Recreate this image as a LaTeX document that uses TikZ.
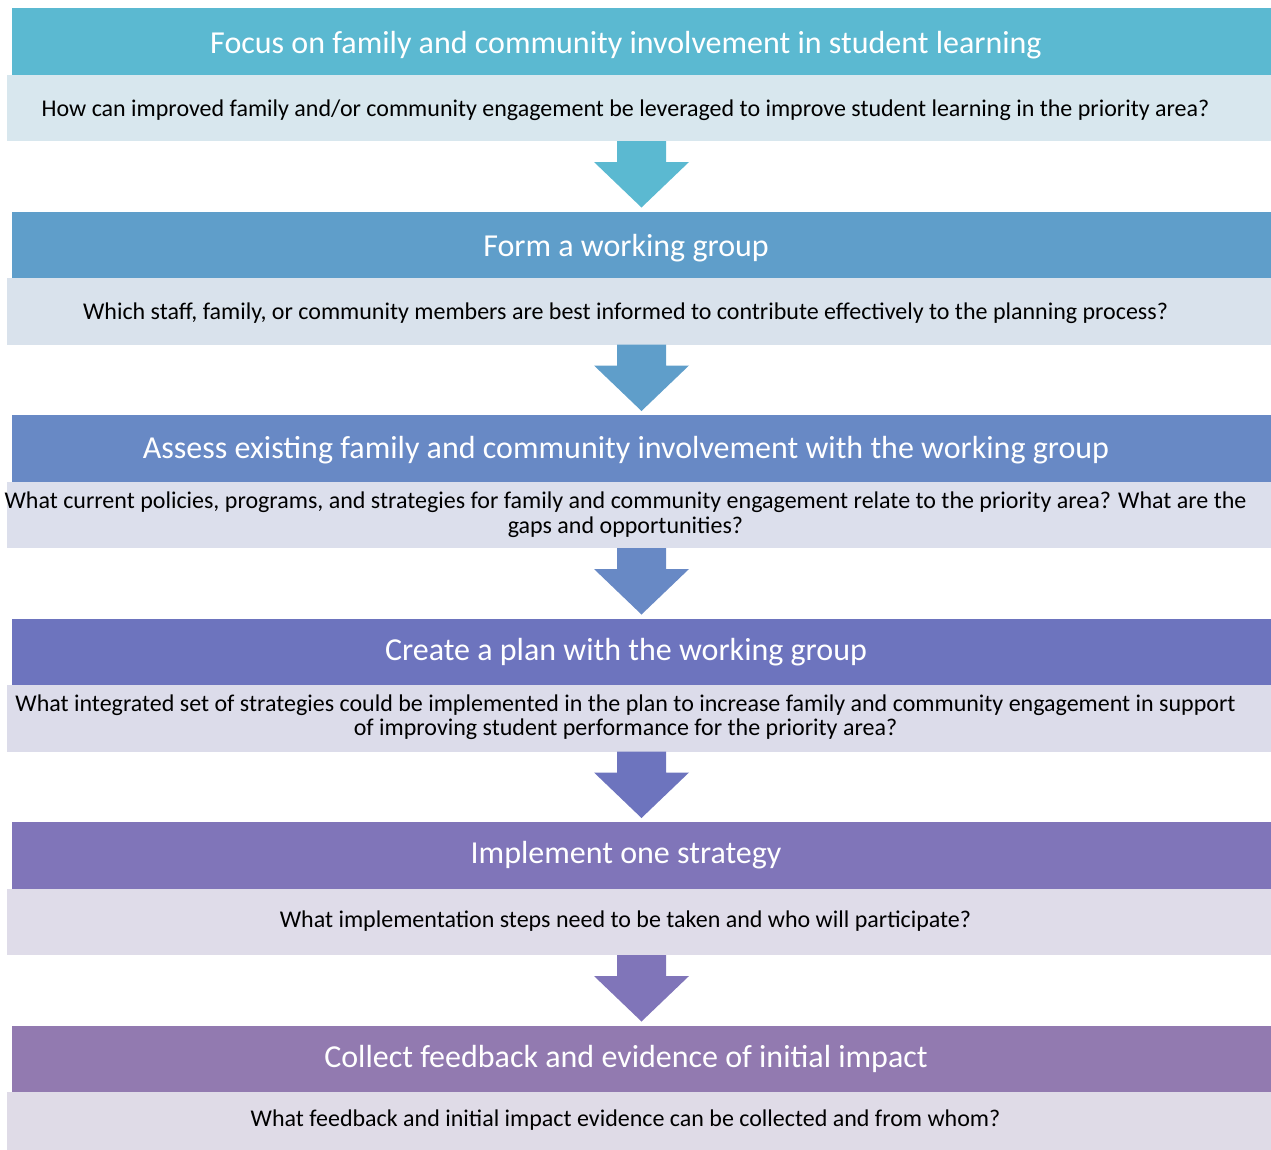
\documentclass[tikz,border=0pt]{standalone}
\usepackage{fontspec}
\setmainfont{Carlito}
\usepackage{tikz}
\usetikzlibrary{positioning,calc}
\definecolor{StepA}{HTML}{5BB9D1}
\definecolor{StepB}{HTML}{5F9ECA}
\definecolor{StepC}{HTML}{6889C5}
\definecolor{StepD}{HTML}{6D74BE}
\definecolor{StepE}{HTML}{8075B9}
\definecolor{StepF}{HTML}{927AB0}
\definecolor{NoteA}{HTML}{D8E7EE}
\definecolor{NoteB}{HTML}{D9E2EC}
\definecolor{NoteC}{HTML}{DCDFEC}
\definecolor{NoteD}{HTML}{DCDCEA}
\definecolor{NoteE}{HTML}{DFDCE9}
\definecolor{NoteF}{HTML}{DFDBE7}

\begin{document}
\begin{tikzpicture}[
  x=1pt,y=1pt,
  hd/.style={fill=#1,minimum width=1259pt,minimum height=66.5pt,inner sep=0pt,outer sep=0pt},
  bd/.style={fill=#1,minimum width=1264pt,minimum height=66.5pt,inner sep=0pt,outer sep=0pt},
  hdtext/.style={text=white,inner sep=0pt,font=\fontsize{32}{38}\selectfont},
  bdtext/.style={text=black,inner sep=0pt,align=center,font=\fontsize{24}{24.5}\selectfont}
]
  \useasboundingbox (0,0) rectangle (1271,-1149);
  % step boxes
  \node[hd=StepA,anchor=north east] (h1) at (1271,-8) {};
  \node[bd=NoteA,below left=0pt and 0pt of h1.south east] (b1) {};
  \node[hd=StepB,below left=70.5pt and 0pt of b1.south east] (h2) {};
  \node[bd=NoteB,below left=0pt and 0pt of h2.south east] (b2) {};
  \node[hd=StepC,below left=70.5pt and 0pt of b2.south east] (h3) {};
  \node[bd=NoteC,below left=0pt and 0pt of h3.south east] (b3) {};
  \node[hd=StepD,below left=70.5pt and 0pt of b3.south east] (h4) {};
  \node[bd=NoteD,below left=0pt and 0pt of h4.south east] (b4) {};
  \node[hd=StepE,below left=70.5pt and 0pt of b4.south east] (h5) {};
  \node[bd=NoteE,below left=0pt and 0pt of h5.south east] (b5) {};
  \node[hd=StepF,below left=70.5pt and 0pt of b5.south east] (h6) {};
  \node[bd=NoteF,below left=0pt and 0pt of h6.south east] (b6) {};
  % texts
  \node[hdtext] (t1) at ([xshift=-15.5pt,yshift=-4pt]h1.center) {Focus on family and community involvement in student learning};
  \node[bdtext] (q1) at ([xshift=-13.5pt,yshift=-2pt]b1.center) {How can improved family and/or community engagement be leveraged to improve student learning in the priority area?};
  \node[hdtext] (t2) at ([xshift=-15.5pt,yshift=-3pt]h2.center) {Form a working group};
  \node[bdtext] (q2) at ([xshift=-13.5pt,yshift=-2pt]b2.center) {Which staff, family, or community members are best informed to contribute effectively to the planning process?};
  \node[hdtext] (t3) at ([xshift=-15.5pt,yshift=-2pt]h3.center) {Assess existing family and community involvement with the working group};
  \node[bdtext] (q3) at ([xshift=-13.5pt]b3.center) {What current policies, programs, and strategies for family and community engagement relate to the priority area? What are the\\gaps and opportunities?};
  \node[hdtext] (t4) at ([xshift=-15.5pt]h4.center) {Create a plan with the working group};
  \node[bdtext] (q4) at ([xshift=-13.5pt,yshift=1pt]b4.center) {What integrated set of strategies could be implemented in the plan to increase family and community engagement in support\\of improving student performance for the priority area?};
  \node[hdtext] (t5) at ([xshift=-15.5pt]h5.center) {Implement one strategy};
  \node[bdtext] (q5) at ([xshift=-13.5pt,yshift=1pt]b5.center) {What implementation steps need to be taken and who will participate?};
  \node[hdtext] (t6) at ([xshift=-15.5pt]h6.center) {Collect feedback and evidence of initial impact};
  \node[bdtext] (q6) at ([xshift=-13.5pt,yshift=5pt]b6.center) {What feedback and initial impact evidence can be collected and from whom?};
  % block arrows
  \foreach \a/\b/\c in {b1/h2/StepA,b2/h3/StepB,b3/h4/StepC,b4/h5/StepD,b5/h6/StepE}
    \fill[\c] (\a.south -| \b.north) ++(-24.5,0) -- ++(0,-21) -- ++(-23,0)
      -- ([yshift=4pt]\b.north) -- ++(47.5,45.5) -- ++(-23,0) -- ++(0,21) -- cycle;
\end{tikzpicture}
\end{document}
